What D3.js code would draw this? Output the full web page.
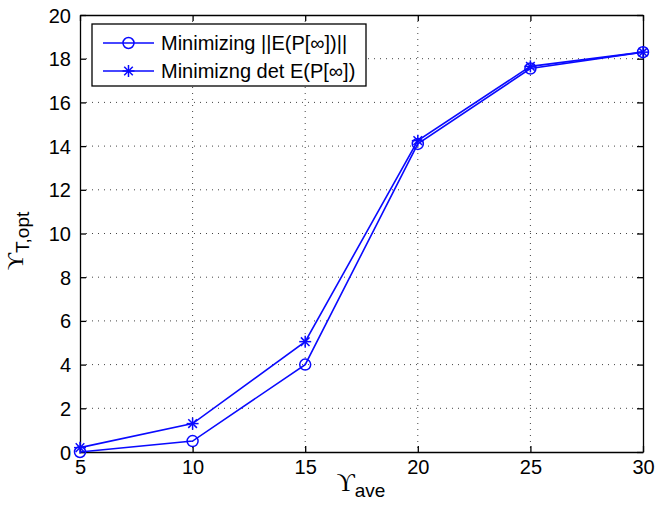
<!DOCTYPE html>
<html>
<head>
<meta charset="utf-8">
<script src="https://cdn.jsdelivr.net/npm/d3@7"></script>
<style>
  body { margin: 0; background: #fff; }
  svg { display: block; }
</style>
</head>
<body>
<script>
// chart values
var xValues = [5, 10, 15, 20, 25, 30];
var normSeries = [0, 0.5, 4.0, 14.1, 17.55, 18.3];
var detSeries = [0.2, 1.3, 5.05, 14.25, 17.65, 18.3];
var xTicks = [5, 10, 15, 20, 25, 30];
var yTicks = [0, 2, 4, 6, 8, 10, 12, 14, 16, 18, 20];
var legendLabels = ["Minimizing ||E(P[\u221e])||", "Minimizng det E(P[\u221e])"];

function init() {
    var w = 657, h = 508;
    var left = 80, right = 643, top = 15, bottom = 452;
    var blue = "#0a0aff";

    var svg = d3.select("body").append("svg")
        .attr("width", w)
        .attr("height", h);

    var x = d3.scaleLinear().domain([5, 30]).range([left, right]);
    var y = d3.scaleLinear().domain([0, 20]).range([bottom, top]);

    // grid lines (dotted)
    var grid = svg.append("g");
    grid.selectAll(".gx")
        .data(xTicks.slice(1, -1))
        .enter().append("line")
        .attr("x1", function(d) { return x(d); })
        .attr("x2", function(d) { return x(d); })
        .attr("y1", top).attr("y2", bottom)
        .attr("stroke", "#444").attr("stroke-width", 1)
        .attr("stroke-dasharray", "1,5");
    grid.selectAll(".gy")
        .data(yTicks.slice(1, -1))
        .enter().append("line")
        .attr("y1", function(d) { return y(d); })
        .attr("y2", function(d) { return y(d); })
        .attr("x1", left).attr("x2", right)
        .attr("stroke", "#444").attr("stroke-width", 1)
        .attr("stroke-dasharray", "1,5");

    // axes with inward ticks (box style)
    var tickLen = 6;
    var fontSans = "'Liberation Sans', Arial, Helvetica, sans-serif";
    var bottomAxis = d3.axisBottom(x).tickValues(xTicks).tickSizeInner(-tickLen).tickSizeOuter(0).tickPadding(7);
    var leftAxis = d3.axisLeft(y).tickValues(yTicks).tickSizeInner(-tickLen).tickSizeOuter(0).tickPadding(9);
    var topAxis = d3.axisTop(x).tickValues(xTicks).tickSizeInner(-tickLen).tickSizeOuter(0).tickFormat("");
    var rightAxis = d3.axisRight(y).tickValues(yTicks).tickSizeInner(-tickLen).tickSizeOuter(0).tickFormat("");

    var gb = svg.append("g").attr("transform", "translate(0," + bottom + ")").call(bottomAxis);
    var gl = svg.append("g").attr("transform", "translate(" + left + ",0)").call(leftAxis);
    var gt = svg.append("g").attr("transform", "translate(0," + top + ")").call(topAxis);
    var gr = svg.append("g").attr("transform", "translate(" + right + ",0)").call(rightAxis);

    [gb, gl, gt, gr].forEach(function(g) {
        g.selectAll("path").attr("stroke", "#000").attr("stroke-width", 1.3);
        g.selectAll("line").attr("stroke", "#000").attr("stroke-width", 1.3);
        g.selectAll("text").attr("fill", "#000").style("font-family", fontSans).style("font-size", "20px");
    });
    gb.selectAll("text").attr("dy", "0.75em");
    gl.selectAll("text").attr("dy", "0.35em");

    // series
    var line = d3.line()
        .x(function(d) { return x(d[0]); })
        .y(function(d) { return y(d[1]); });

    var normPts = xValues.map(function(v, i) { return [v, normSeries[i]]; });
    var detPts = xValues.map(function(v, i) { return [v, detSeries[i]]; });

    svg.append("path").datum(normPts).attr("d", line)
        .attr("fill", "none").attr("stroke", blue).attr("stroke-width", 1.6);
    svg.append("path").datum(detPts).attr("d", line)
        .attr("fill", "none").attr("stroke", blue).attr("stroke-width", 1.6);

    function drawCircle(g, cx, cy) {
        g.append("circle").attr("cx", cx).attr("cy", cy).attr("r", 5.5)
            .attr("fill", "none").attr("stroke", blue).attr("stroke-width", 1.5);
    }
    function drawStar(g, cx, cy) {
        var s = 6, d = 4.3;
        var segs = [[-s, 0, s, 0], [0, -s, 0, s], [-d, -d, d, d], [-d, d, d, -d]];
        segs.forEach(function(p) {
            g.append("line")
                .attr("x1", cx + p[0]).attr("y1", cy + p[1])
                .attr("x2", cx + p[2]).attr("y2", cy + p[3])
                .attr("stroke", blue).attr("stroke-width", 1.5);
        });
    }

    var marks = svg.append("g");
    normPts.forEach(function(p) { drawCircle(marks, x(p[0]), y(p[1])); });
    detPts.forEach(function(p) { drawStar(marks, x(p[0]), y(p[1])); });

    // legend
    var lg = svg.append("g");
    lg.append("rect").attr("x", 92).attr("y", 24).attr("width", 274).attr("height", 62)
        .attr("fill", "#fff").attr("stroke", "#000").attr("stroke-width", 1.3);
    var rows = [43, 71];
    rows.forEach(function(ry, i) {
        lg.append("line").attr("x1", 103).attr("x2", 154).attr("y1", ry).attr("y2", ry)
            .attr("stroke", blue).attr("stroke-width", 1.6);
        if (i === 0) drawCircle(lg, 128.5, ry); else drawStar(lg, 128.5, ry);
        lg.append("text").attr("x", 161).attr("y", ry).attr("dy", "0.35em")
            .style("font-family", fontSans).style("font-size", "20px")
            .text(legendLabels[i]);
    });

    // axis labels
    var fontSerif = "'Liberation Serif', 'DejaVu Serif', 'Times New Roman', serif";
    var xl = svg.append("text").attr("x", 361).attr("y", 491).attr("text-anchor", "middle");
    xl.append("tspan").style("font-family", fontSerif).style("font-size", "25px").text("\u03d2");
    xl.append("tspan").attr("dy", 6).style("font-family", fontSans).style("font-size", "19px").text("ave");

    var yl = svg.append("text").attr("text-anchor", "middle")
        .attr("transform", "translate(23,241) rotate(-90)");
    yl.append("tspan").style("font-family", fontSerif).style("font-size", "24px").text("\u03d2");
    yl.append("tspan").attr("dy", 6).style("font-family", fontSans).style("font-size", "19px").text("T,opt");
}
window.onload = init;
</script>
</body>
</html>
